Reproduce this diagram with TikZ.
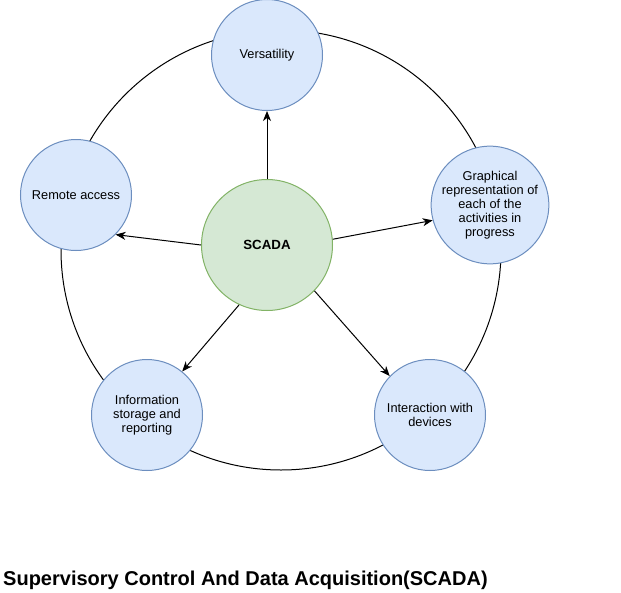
\documentclass[tikz,border=0pt]{standalone}
\usepackage{fontspec}
\setmainfont{Liberation Sans}
\usetikzlibrary{arrows.meta}
\definecolor{bfill}{HTML}{DAE8FC}
\definecolor{bdraw}{HTML}{6C8EBF}
\definecolor{gfill}{HTML}{D5E8D4}
\definecolor{gdraw}{HTML}{82B366}
\tikzset{
  feat/.style={circle, draw=bdraw, fill=bfill, line width=1pt, minimum size=111pt, inner sep=0pt, align=center, font=\fontsize{12.8}{14}\selectfont},
  hub/.style={circle, draw=gdraw, fill=gfill, line width=1pt, minimum size=131pt, inner sep=0pt, font=\fontsize{13.3}{15}\selectfont\bfseries},
  conn/.style={line width=1pt, -{Stealth[length=10pt,width=8pt,inset=3pt]}},
  ring/.style={line width=1pt, draw=black}
}
\begin{document}
\begin{tikzpicture}[x=1pt,y=-1pt]
\useasboundingbox (0,0) rectangle (621,592);
\fill[white] (0,0) rectangle (621,592);
\node[ring, circle, minimum size=440pt, inner sep=0pt] (ring) at (281,250) {};
\node[hub] (scada) at (267,245) {SCADA};
\node[feat] (vers) at (267,55) {Versatility};
\node[feat] (remote) at (76,195) {Remote access};
\node[feat] (graph) at (490,205) {Graphical\\representation of\\each of the\\activities in\\progress};
\node[feat] (info) at (147,415) {Information\\storage and\\reporting};
\node[feat] (inter) at (430,415) {Interaction with\\devices};
\draw[conn] (scada.north) -- (vers.south);
\draw[conn] (scada.180) -- (remote.-45);
\draw[conn] (scada.5) -- (graph.195);
\draw[conn] (scada.245) -- (info.51);
\draw[conn] (scada.-44) -- (inter.136);
\node[anchor=base west, inner sep=0pt, font=\fontsize{20}{24}\selectfont\bfseries] (title) at (3,585) {Supervisory Control And Data Acquisition(SCADA)};
\end{tikzpicture}
\end{document}
